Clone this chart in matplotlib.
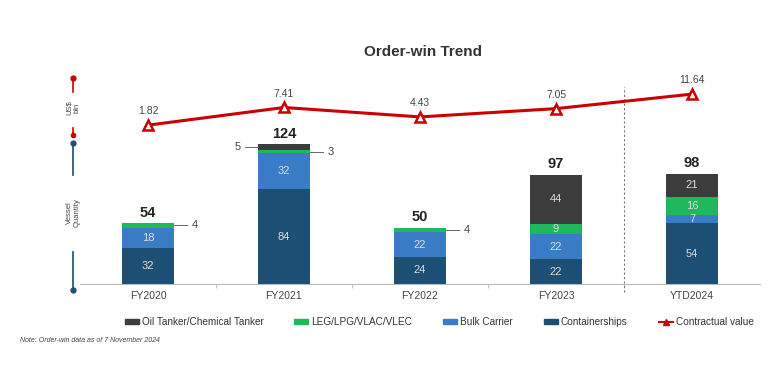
import numpy as np
import matplotlib
matplotlib.use("Agg")
import matplotlib.pyplot as plt
from matplotlib.patches import Patch
from matplotlib.lines import Line2D

# 数据
years = ['FY2020', 'FY2021', 'FY2022', 'FY2023', 'YTD2024']
containerships = [32, 84, 24, 22, 54]
bulk_carrier = [18, 32, 22, 22, 7]
leg_lpg = [4, 3, 4, 9, 16]
oil_tanker = [0, 5, 0, 44, 21]
contract_value = [1.82, 7.41, 4.43, 7.05, 11.64]

c_cont = '#1d4e74'
c_bulk = '#3a7cc6'
c_leg = '#1fb85a'
c_oil = '#3c3c3c'
c_red = '#cc0000'
c_text = '#444444'

plt.rcParams['font.family'] = ['Liberation Sans', 'DejaVu Sans']

fig = plt.figure(figsize=(7.74, 3.82), dpi=100)
ax = fig.add_axes([80 / 774, 98 / 382, 680 / 774, 204 / 382])
x = np.arange(len(years))
w = 0.38

series = [(containerships, c_cont), (bulk_carrier, c_bulk), (leg_lpg, c_leg), (oil_tanker, c_oil)]
bottom = np.zeros(len(years))
for vals, col in series:
    vals = np.array(vals)
    ax.bar(x, vals, w, bottom=bottom, color=col, edgecolor='none', zorder=2)
    for i, v in enumerate(vals):
        if v >= 7:
            ax.text(x[i], bottom[i] + v / 2, str(v), ha='center', va='center',
                    fontsize=8, color='#dcdcdc', zorder=3)
    bottom = bottom + vals

totals = bottom
for i, t in enumerate(totals):
    ax.text(x[i], t + 3, str(int(t)), ha='center', va='bottom', fontsize=10.5,
            fontweight='bold', color='#222222')

# 小数值标签（引线）
def side_label(i, v, base, side):
    yc = base + v / 2
    if side == 'right':
        x0, x1 = x[i] + w / 2, x[i] + w / 2 + 0.1
        ax.plot([x0, x1], [yc, yc], color='#666666', lw=0.7, clip_on=False)
        ax.text(x1 + 0.03, yc, str(v), ha='left', va='center', fontsize=8, color=c_text)
    else:
        x0, x1 = x[i] - w / 2, x[i] - w / 2 - 0.1
        ax.plot([x0, x1], [yc, yc], color='#666666', lw=0.7, clip_on=False)
        ax.text(x1 - 0.03, yc, str(v), ha='right', va='center', fontsize=8, color=c_text)

for i in [0, 1, 2]:
    base = containerships[i] + bulk_carrier[i]
    side_label(i, leg_lpg[i], base, 'right')
side_label(1, oil_tanker[1], containerships[1] + bulk_carrier[1] + leg_lpg[1], 'left')

ax.set_xlim(-0.5, 4.5)
ax.set_ylim(0, 181)
for s in ['top', 'right', 'left']:
    ax.spines[s].set_visible(False)
ax.spines['bottom'].set_color('#bbbbbb')
ax.set_yticks([])
ax.set_xticks(x)
ax.set_xticklabels(years, fontsize=7.5, color=c_text)
ax.tick_params(axis='x', length=0, pad=5)
ax.set_xticks(np.arange(0.5, 4, 1), minor=True)
ax.tick_params(axis='x', which='minor', length=3, color='#bbbbbb')
ax.axvline(3.5, ymin=-0.04, ymax=0.966, color='#777777', lw=0.8, ls=(0, (2, 2)), clip_on=False)

# 合同金额折线
ax2 = ax.twinx()
ax2.set_ylim(-48.4, 16.1)
ax2.axis('off')
ax2.plot(x, contract_value, color=c_red, lw=2.2, marker='^', markersize=7,
         markerfacecolor='white', markeredgecolor=c_red, markeredgewidth=1.8, zorder=4)
for i, v in enumerate(contract_value):
    ax2.text(x[i], v + 2.8, f'{v:.2f}', ha='center', va='bottom', fontsize=7.5, color=c_text)

# 标题
fig.text(423 / 774, 1 - 52 / 382, 'Order-win Trend', ha='center', va='center',
         fontsize=11, fontweight='bold', color='#333333')

# 左侧装饰轴
deco = fig.add_axes([0, 0, 1, 1], zorder=-1)
deco.set_xlim(0, 774)
deco.set_ylim(382, 0)
deco.axis('off')
deco.plot([73, 73], [78, 92], color=c_red, lw=1.2)
deco.plot([73], [78], 'o', color=c_red, ms=3.5)
deco.plot([73, 73], [128, 135], color=c_red, lw=1.2)
deco.plot([73], [135], 'o', color=c_red, ms=3)
deco.text(73, 108, 'US$\nbln', rotation=90, ha='center', va='center', fontsize=5.5,
          color=c_text, linespacing=1.1)
deco.plot([73, 73], [143, 175], color=c_cont, lw=1.2)
deco.plot([73], [143], 'o', color=c_cont, ms=3.5)
deco.text(73, 213, 'Vessel\nQuantity', rotation=90, ha='center', va='center', fontsize=5.5,
          color=c_text, linespacing=1.1)
deco.plot([73, 73], [252, 290], color=c_cont, lw=1.2)
deco.plot([73], [290], 'o', color=c_cont, ms=3.5)

# 图例
handles = [
    Patch(color=c_oil, label='Oil Tanker/Chemical Tanker'),
    Patch(color=c_leg, label='LEG/LPG/VLAC/VLEC'),
    Patch(color=c_bulk, label='Bulk Carrier'),
    Patch(color=c_cont, label='Containerships'),
    Line2D([0], [0], color=c_red, lw=1.5, marker='^', markersize=5, label='Contractual value'),
]
fig.legend(handles=handles, loc='center', bbox_to_anchor=(439 / 774, 1 - 322 / 382), ncol=5,
           frameon=False, fontsize=7.2, handlelength=1.4, handleheight=0.45,
           handletextpad=0.3, columnspacing=3.1, labelcolor='#333333')

fig.text(20 / 774, 1 - 340 / 382, 'Note: Order-win data as of 7 November 2024',
         fontsize=5, style='italic', color=c_text, va='center')

fig.savefig('out.png', dpi=100)
